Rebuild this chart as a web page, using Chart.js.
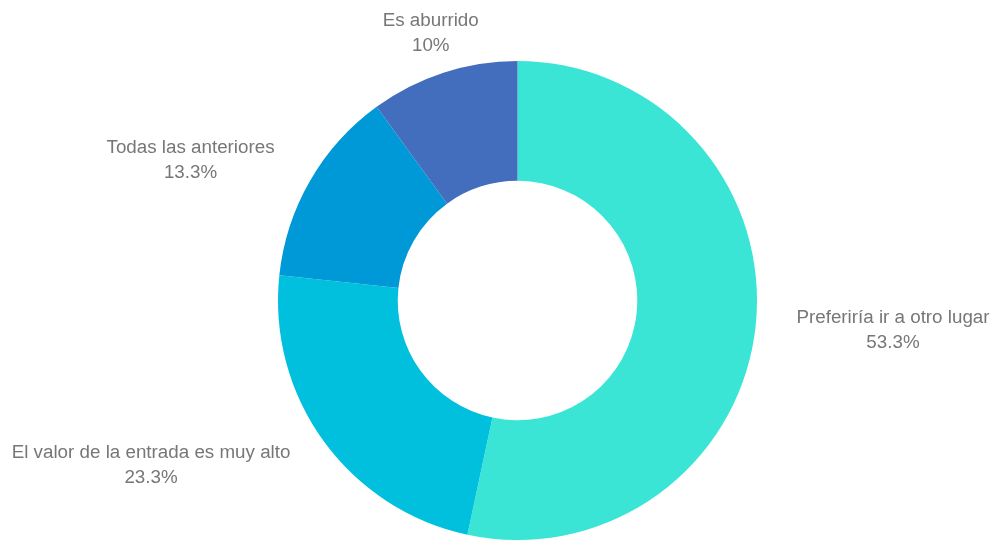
<!DOCTYPE html>
<html lang="es">
<head>
    <meta charset="UTF-8">
    <title>Encuesta</title>
    <script src="https://cdn.jsdelivr.net/npm/chart.js"></script>
    <style>
        html, body { margin: 0; padding: 0; background: #fff; }
        .wrap { width: 993px; height: 540px; }
    </style>
</head>
<body>
    <div class="wrap">
        <canvas id="myChart" width="993" height="540"></canvas>
    </div>
<script>
    const categorias = ['Preferiría ir a otro lugar', 'El valor de la entrada es muy alto', 'Todas las anteriores', 'Es aburrido'];
    const porcentajes = [53.3, 23.3, 13.3, 10];
    const colores = ['#3be5d6', '#00c0de', '#0099d8', '#436dbd'];

    // etiquetas fuera de la dona: nombre y porcentaje
    const etiquetasFuera = {
        id: 'etiquetasFuera',
        afterDraw(chart) {
            const ctx = chart.ctx;
            const arcos = chart.getDatasetMeta(0).data;
            ctx.save();
            ctx.font = '18.8px "Liberation Sans", Arial, sans-serif';
            ctx.fillStyle = '#777777';
            ctx.textBaseline = 'middle';
            ctx.textAlign = 'center';
            arcos.forEach((arco, i) => {
                const p = arco.getProps(['x', 'y', 'startAngle', 'endAngle', 'outerRadius']);
                const medio = (p.startAngle + p.endAngle) / 2;
                const d = p.outerRadius + 41;
                const px = p.x + Math.cos(medio) * d;
                const py = p.y + Math.sin(medio) * d;
                const lineas = [categorias[i], porcentajes[i] + '%'];
                const ancho = Math.max(...lineas.map(t => ctx.measureText(t).width));
                let cx = px;
                if (Math.cos(medio) > 0.35) cx = px + ancho / 2;
                else if (Math.cos(medio) < -0.35) cx = px - ancho / 2;
                ctx.fillText(lineas[0], cx, py - 12.5);
                ctx.fillText(lineas[1], cx, py + 12.5);
            });
            ctx.restore();
        }
    };

    new Chart(document.getElementById('myChart'), {
        type: 'doughnut',
        data: {
            labels: categorias,
            datasets: [{
                data: porcentajes,
                backgroundColor: colores,
                borderWidth: 0
            }]
        },
        options: {
            responsive: false,
            animation: false,
            cutout: '50%',
            layout: {
                padding: { left: 42, right: 0, top: 61, bottom: 0 }
            },
            plugins: {
                legend: { display: false },
                tooltip: { enabled: true }
            }
        },
        plugins: [etiquetasFuera]
    });
</script>
</body>
</html>
